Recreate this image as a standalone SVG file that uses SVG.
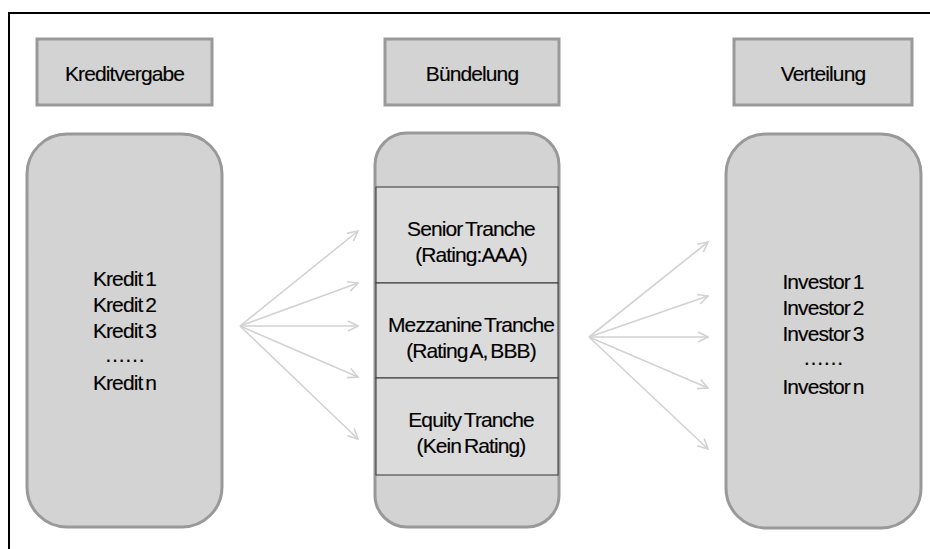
<svg xmlns="http://www.w3.org/2000/svg" width="930" height="549" viewBox="0 0 930 549">
  <style>
    .hdr { fill: #d3d3d3; stroke: #999999; stroke-width: 3; }
    .col { fill: #d3d3d3; stroke: #999999; stroke-width: 3; }
    .tr  { fill: #dbdbdb; stroke: #333333; stroke-width: 1; }
    .lbl { font-family: "Liberation Sans", Arial, sans-serif; font-size: 21px; letter-spacing: -0.9px; word-spacing: -2px; fill: #000000; stroke: #000000; stroke-width: 0.15; text-anchor: middle; }
    .arr { stroke: #d2d2d2; stroke-width: 1.6; fill: none; marker-end: url(#open); }
  </style>
  <defs>
    <marker id="open" viewBox="0 0 12 12" refX="11" refY="6" markerWidth="12" markerHeight="12" markerUnits="userSpaceOnUse" orient="auto">
      <path d="M1,1 L11,6 L1,11" fill="none" stroke="#d2d2d2" stroke-width="1.6"/>
    </marker>
  </defs>

  <rect width="930" height="549" fill="#ffffff"/>
  <!-- outer frame (open to the right and bottom) -->
  <path d="M9,549 L9,13 L930,13" fill="none" stroke="#000000" stroke-width="2"/>

  <g id="kreditvergabe">
    <rect class="hdr" x="37" y="39" width="175" height="66"/>
    <text class="lbl" x="124.5" y="81">Kreditvergabe</text>
  </g>
  <g id="buendelung">
    <rect class="hdr" x="385" y="39" width="174" height="66"/>
    <text class="lbl" x="472" y="81">Bündelung</text>
  </g>
  <g id="verteilung">
    <rect class="hdr" x="734" y="39" width="178" height="66"/>
    <text class="lbl" x="823" y="81">Verteilung</text>
  </g>

  <g id="kredite">
    <rect class="col" x="27" y="134" width="195" height="393" rx="40" ry="40"/>
    <text class="lbl" x="124.5" y="286">Kredit 1</text>
    <text class="lbl" x="124.5" y="312">Kredit 2</text>
    <text class="lbl" x="124.5" y="338">Kredit 3</text>
    <text class="lbl" x="124.5" y="362">……</text>
    <text class="lbl" x="124.5" y="390">Kredit n</text>
  </g>

  <g id="tranchen">
    <rect class="col" x="375" y="133" width="184" height="394" rx="32" ry="32"/>
    <rect class="tr" x="376" y="187" width="182" height="96"/>
    <rect class="tr" x="376" y="283" width="182" height="95"/>
    <rect class="tr" x="376" y="378" width="182" height="97"/>
    <text class="lbl" x="471" y="236">Senior Tranche</text>
    <text class="lbl" x="471" y="262">(Rating:AAA)</text>
    <text class="lbl" x="471" y="332">Mezzanine Tranche</text>
    <text class="lbl" x="471" y="358">(Rating A, BBB)</text>
    <text class="lbl" x="471" y="427">Equity Tranche</text>
    <text class="lbl" x="471" y="453">(Kein Rating)</text>
  </g>

  <g id="investoren">
    <rect class="col" x="726" y="134" width="195" height="394" rx="40" ry="40"/>
    <text class="lbl" x="823" y="289">Investor 1</text>
    <text class="lbl" x="823" y="315">Investor 2</text>
    <text class="lbl" x="823" y="341">Investor 3</text>
    <text class="lbl" x="823" y="365">……</text>
    <text class="lbl" x="823" y="394">Investor n</text>
  </g>

  <g id="connectors">
    <line class="arr" x1="240" y1="326" x2="358" y2="231"/>
    <line class="arr" x1="240" y1="326" x2="358" y2="283"/>
    <line class="arr" x1="240" y1="326" x2="358" y2="326"/>
    <line class="arr" x1="240" y1="326" x2="358" y2="377"/>
    <line class="arr" x1="240" y1="326" x2="358" y2="439"/>

    <line class="arr" x1="589" y1="337" x2="708" y2="242"/>
    <line class="arr" x1="589" y1="337" x2="708" y2="296"/>
    <line class="arr" x1="589" y1="337" x2="708" y2="337"/>
    <line class="arr" x1="589" y1="337" x2="708" y2="388"/>
    <line class="arr" x1="589" y1="337" x2="708" y2="449"/>
  </g>
</svg>
